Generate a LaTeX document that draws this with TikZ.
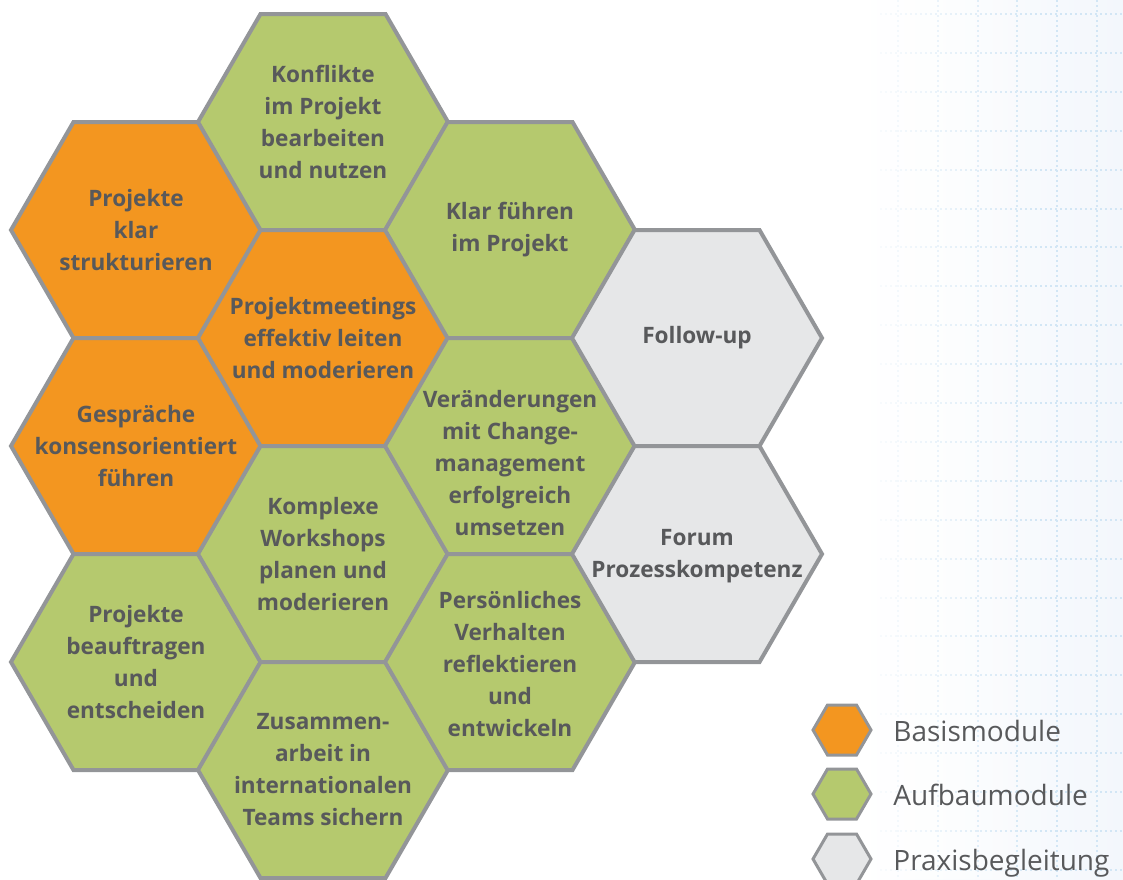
\documentclass[tikz,border=0pt]{standalone}
\usepackage{fontspec}
\setmainfont{Open Sans}
\usetikzlibrary{fadings}
\definecolor{basis}{HTML}{F39620}
\definecolor{aufbau}{HTML}{B5C96E}
\definecolor{praxis}{HTML}{E6E7E8}
\definecolor{rand}{HTML}{939598}
\definecolor{schrift}{HTML}{58595B}
\definecolor{raster}{HTML}{D2E6F5}
\definecolor{hinter}{HTML}{F3F7FC}

\begin{document}
\begin{tikzpicture}[x=0.5pt, y=-0.5pt,
    wabe/.style={draw=rand, line width=2pt},
    wabetext/.style={text=schrift, font=\fontsize{11.3}{16}\selectfont\bfseries, align=center, inner sep=0pt},
    legwabe/.style={draw=rand, line width=1.5pt},
    legtext/.style={text=schrift, font=\fontsize{14}{16}\selectfont, anchor=base west, inner sep=0pt},
    gitter/.style={raster, line width=1pt, dash pattern=on 1pt off 1.5pt}]
    \useasboundingbox (0,0) rectangle (1123,879);

    % Hintergrund mit Raster
    \shade[left color=white, right color=hinter] (860,0) rectangle (1123,879);
    \foreach \gx in {898,937.8,...,1110}
        \draw[gitter] (\gx,0) -- (\gx,879);
    \foreach \gy in {14,52.9,...,879}
        \draw[gitter] (880,\gy) -- (1123,\gy);
    \fill[white, path fading=east] (850,0) rectangle (1040,879);

    % Waben
    \foreach \n/\x/\y/\ty/\c/\t in {
        pk/136/230/230/basis/{Projekte\\klar\\strukturieren},
        gk/136/446/446/basis/{Gespräche\\konsensorientiert\\führen},
        pb/136/662/662/aufbau/{Projekte\\beauftragen\\und\\entscheiden},
        kp/323/122/122/aufbau/{Konflikte\\im Projekt\\bearbeiten\\und nutzen},
        pm/323/338/338/basis/{Projektmeetings\\effektiv leiten\\und moderieren},
        kw/323/554/554/aufbau/{Komplexe\\Workshops\\planen und\\moderieren},
        zi/323/770/770/aufbau/{Zusammen-\\arbeit in\\internationalen\\Teams sichern},
        kf/510/230/230/aufbau/{Klar führen\\im Projekt},
        vc/510/446/463/aufbau/{Veränderungen\\mit Change-\\management\\erfolgreich\\umsetzen},
        pv/510/662/664/aufbau/{Persönliches\\Verhalten\\reflektieren\\und\\entwickeln},
        fu/697/338/338/praxis/{Follow-up},
        fp/697/554/556/praxis/{Forum\\Prozesskompetenz}}
    {
        \draw[wabe, fill=\c] (\x,\y) +(-125,0) -- +(-62.5,-108) -- +(62.5,-108)
            -- +(125,0) -- +(62.5,108) -- +(-62.5,108) -- cycle;
        \node[wabetext] (\n) at (\x,\ty) {\t};
    }

    % Legende
    \foreach \n/\y/\c/\t in {lb/730/basis/Basismodule, la/794/aufbau/Aufbaumodule, lp/859/praxis/Praxisbegleitung}
    {
        \draw[legwabe, fill=\c] (842,\y) +(-29,0) -- +(-14.5,-25) -- +(14.5,-25)
            -- +(29,0) -- +(14.5,25) -- +(-14.5,25) -- cycle;
        \node[legtext] (\n) at (893,\y+11) {\t};
    }
\end{tikzpicture}
\end{document}
